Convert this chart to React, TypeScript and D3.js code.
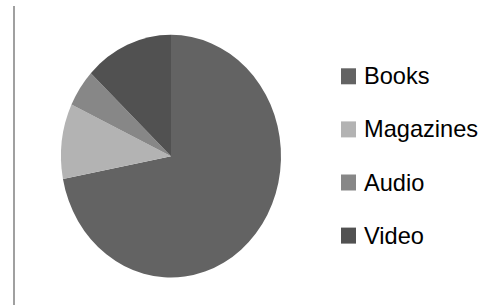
import React from "react";
import * as d3 from "d3";

const categories = ["Books", "Magazines", "Audio", "Video"];
const values = [72, 10, 5, 13];
const colors = ["#636363", "#b3b3b3", "#878787", "#515151"];

const W = 504;
const H = 305;
const cx = 171;
const cy = 156.2;
const R = 110;
const yStretch = 1.103;

export default function App() {
  const pie = d3
    .pie<number>()
    .sort(null)
    .value((d) => d)
    .startAngle(0)
    .endAngle(2 * Math.PI);
  const arcs = pie(values);
  const arc = d3.arc<d3.PieArcDatum<number>>().innerRadius(0).outerRadius(R);

  const legendY = d3
    .scalePoint<string>()
    .domain(categories)
    .range([76.3, 235.6]);

  return (
    <div style={{ position: "fixed", left: 0, top: 0 }}>
      <svg width={W} height={H} style={{ display: "block", background: "#fff" }}>
        <line x1={14} x2={14} y1={6} y2={H} stroke="#a0a0a0" strokeWidth={2} />
        <g transform={`translate(${cx},${cy}) scale(1,${yStretch})`}>
          {arcs.map((a, i) => (
            <path key={categories[i]} d={arc(a) || ""} fill={colors[i]} />
          ))}
        </g>
        <g>
          {categories.map((c, i) => {
            const y = legendY(c) as number;
            return (
              <g key={c}>
                <rect x={341} y={y - 8} width={15} height={16} fill={colors[i]} />
                <text
                  x={364}
                  y={y + 8}
                  fontFamily="'Liberation Sans', Arial, sans-serif"
                  fontSize={23.6}
                  fill="#000"
                >
                  {c}
                </text>
              </g>
            );
          })}
        </g>
      </svg>
    </div>
  );
}
